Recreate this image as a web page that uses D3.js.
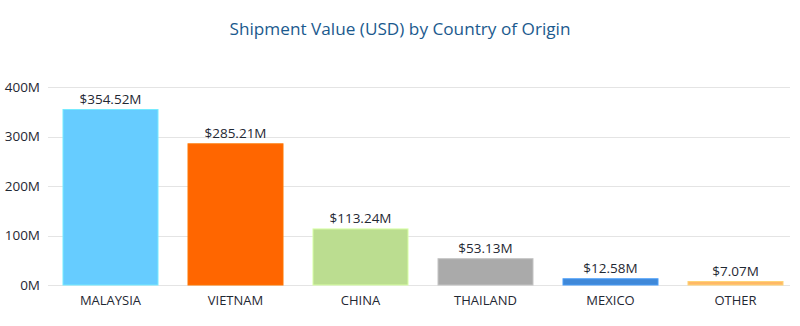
<!DOCTYPE html>
<html>
<head>
<meta charset="utf-8">
<script src="https://cdn.jsdelivr.net/npm/d3@7"></script>
<style>
  html, body { margin: 0; padding: 0; background: #ffffff; }
  svg { display: block; font-family: "Open Sans", "Noto Sans", sans-serif; }
</style>
</head>
<body>
<svg id="chart" width="800" height="326"></svg>
<script>
// Shipment value by country of origin, in millions of USD
const countries = ["MALAYSIA", "VIETNAM", "CHINA", "THAILAND", "MEXICO", "OTHER"];
const valuesM = [354.52, 285.21, 113.24, 53.13, 12.58, 7.07];
const barColors = ["#66ccff", "#ff6600", "#bbdd90", "#aaaaaa", "#3f88d8", "#ffb866"];
const yTicks = [0, 100, 200, 300, 400];

const svg = d3.select("#chart");
const width = 800, height = 326;
const margin = { top: 87, right: 10, bottom: 41, left: 48 };

const x = d3.scaleBand()
  .domain(countries)
  .range([margin.left, width - 2])
  .paddingInner(0.24)
  .paddingOuter(0.12);

const y = d3.scaleLinear()
  .domain([0, 400])
  .range([height - margin.bottom, margin.top]);

// Title
svg.append("text")
  .attr("x", 400)
  .attr("y", 35)
  .attr("text-anchor", "middle")
  .attr("fill", "#1b5a8e")
  .attr("font-size", 17.2)
  .text("Shipment Value (USD) by Country of Origin");

// Horizontal gridlines
svg.append("g")
  .selectAll("line")
  .data(yTicks)
  .join("line")
  .attr("x1", margin.left)
  .attr("x2", 790)
  .attr("y1", d => Math.round(y(d)) + 0.5)
  .attr("y2", d => Math.round(y(d)) + 0.5)
  .attr("stroke", "#e4e4e4")
  .attr("stroke-width", 1);

// Y axis labels
const yAxis = d3.axisLeft(y)
  .tickValues(yTicks)
  .tickFormat(d => d + "M")
  .tickSize(0)
  .tickPadding(0);

const yg = svg.append("g")
  .attr("transform", `translate(40,0)`)
  .call(yAxis);
yg.select(".domain").remove();
yg.selectAll("text")
  .attr("fill", "#1f2833")
  .attr("font-size", 13.5)
  .attr("font-family", "\"Open Sans\", \"Noto Sans\", sans-serif");

// Bars
const rows = countries.map((c, i) => ({ country: c, value: valuesM[i], color: barColors[i] }));

svg.append("g")
  .selectAll("rect")
  .data(rows)
  .join("rect")
  .attr("x", d => x(d.country))
  .attr("y", d => y(d.value))
  .attr("width", x.bandwidth())
  .attr("height", d => y(0) - y(d.value))
  .attr("fill", d => d.color)
  .attr("stroke", d => d3.color(d.color).brighter(0.4))
  .attr("stroke-width", 1);

// Value labels above bars
svg.append("g")
  .selectAll("text")
  .data(rows)
  .join("text")
  .attr("x", d => x(d.country) + x.bandwidth() / 2)
  .attr("y", d => y(d.value) - 6)
  .attr("text-anchor", "middle")
  .attr("fill", "#1f2833")
  .attr("font-size", 13.5)
  .text(d => "$" + d.value.toFixed(2) + "M");

// X axis category labels
const xAxis = d3.axisBottom(x).tickSize(0).tickPadding(0);
const xg = svg.append("g")
  .attr("transform", `translate(0,${y(0) + 20})`)
  .call(xAxis);
xg.select(".domain").remove();
xg.selectAll("text")
  .attr("fill", "#1f2833")
  .attr("font-size", 13)
  .attr("dy", 0)
  .attr("font-family", "\"Open Sans\", \"Noto Sans\", sans-serif");
</script>
</body>
</html>
